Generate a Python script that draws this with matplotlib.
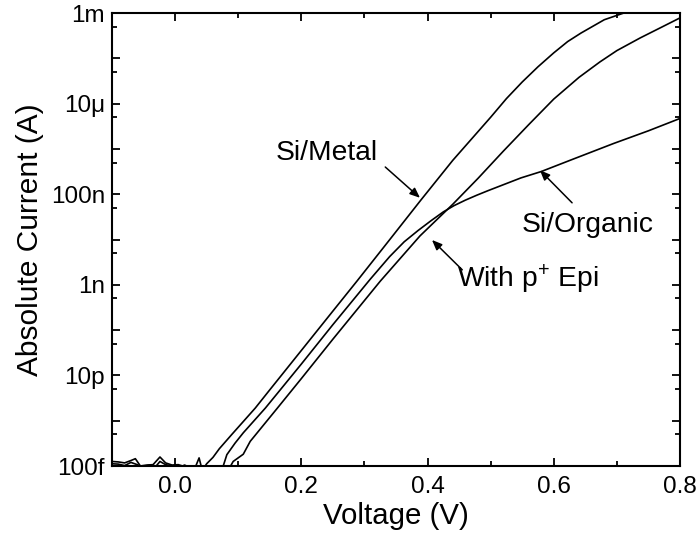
import numpy as np
import matplotlib
matplotlib.use("Agg")
import matplotlib.pyplot as plt
from matplotlib.ticker import FixedLocator, FixedFormatter

plt.rcParams['font.family'] = ['Liberation Sans', 'DejaVu Sans']
plt.rcParams['mathtext.fontset'] = 'custom'
plt.rcParams['mathtext.rm'] = 'Liberation Sans'
plt.rcParams['mathtext.it'] = 'Liberation Sans:italic'

# ---- data (voltage in V, current in A) ----
v_metal = [-0.100, -0.090, -0.080, -0.070, -0.063, -0.055, -0.045, -0.035, -0.024,
           -0.015, -0.005, 0.005, 0.012, 0.020, 0.030, 0.038, 0.043,
           0.050, 0.060, 0.070, 0.090, 0.106, 0.127, 0.150, 0.200, 0.250, 0.288,
           0.330, 0.390, 0.440, 0.500, 0.525, 0.550, 0.575, 0.600, 0.622, 0.643, 0.680, 0.711, 0.730]
i_metal = [1.26e-13, 1.23e-13, 1.17e-13, 1.32e-13, 1.45e-13, 1.00e-13, 1.05e-13, 1.07e-13, 1.58e-13,
           1.17e-13, 1.05e-13, 1.07e-13, 1.00e-13, 0.80e-13, 0.80e-13, 1.51e-13, 0.80e-13,
           1.12e-13, 1.55e-13, 2.40e-13, 5.0e-13, 8.9e-13, 1.9e-12, 4.8e-12, 3.55e-11, 2.63e-10, 1.20e-9,
           6.6e-9, 7.6e-8, 5.6e-7, 5.0e-6, 1.29e-5, 3.0e-5, 6.5e-5, 1.32e-4, 2.34e-4, 3.6e-4, 7.1e-4, 1.0e-3, 1.26e-3]

v_organic = [-0.100, -0.090, -0.080, -0.070, -0.060, -0.052, -0.040, -0.030, -0.024,
             -0.015, -0.005, 0.005, 0.015, 0.025, 0.035, 0.050, 0.060, 0.070,
             0.074, 0.082, 0.095, 0.108, 0.143, 0.200, 0.250, 0.309, 0.340, 0.363,
             0.385, 0.406, 0.425, 0.442, 0.460, 0.478, 0.496, 0.548, 0.580, 0.630, 0.695, 0.750, 0.800]
i_organic = [1.12e-13, 1.10e-13, 1.02e-13, 1.20e-13, 1.07e-13, 0.95e-13, 1.05e-13, 1.00e-13, 1.26e-13,
             1.07e-13, 1.00e-13, 0.90e-13, 1.05e-13, 0.90e-13, 0.85e-13, 0.85e-13, 0.85e-13, 0.85e-13,
             0.80e-13, 1.78e-13, 3.2e-13, 5.4e-13, 1.9e-12, 1.78e-11, 1.32e-10, 1.32e-9, 4.2e-9, 8.9e-9,
             1.58e-8, 2.63e-8, 4.07e-8, 5.6e-8, 7.4e-8, 9.5e-8, 1.20e-7, 2.29e-7, 3.16e-7, 5.9e-7, 1.32e-6, 2.51e-6, 4.7e-6]

v_epi = [-0.100, -0.080, -0.060, -0.040, -0.020, 0.000, 0.020, 0.040, 0.060, 0.080,
         0.084, 0.092, 0.108, 0.119, 0.161, 0.200, 0.250, 0.325, 0.388, 0.440,
         0.480, 0.520, 0.560, 0.600, 0.640, 0.673, 0.700, 0.737, 0.770, 0.800]
i_epi = [0.95e-13, 0.92e-13, 0.96e-13, 0.94e-13, 0.93e-13, 0.92e-13, 0.90e-13, 0.88e-13, 0.85e-13, 0.85e-13,
         0.80e-13, 1.26e-13, 1.82e-13, 3.5e-13, 1.82e-12, 8.5e-12, 6.3e-11, 1.20e-9, 1.20e-8, 6.0e-8,
         2.24e-7, 8.9e-7, 3.4e-6, 1.26e-5, 3.8e-5, 8.3e-5, 1.48e-4, 2.82e-4, 4.8e-4, 7.8e-4]

y_major = [1e-13, 1e-12, 1e-11, 1e-10, 1e-9, 1e-8, 1e-7, 1e-6, 1e-5, 1e-4, 1e-3]
y_labels = ['100f', '', '10p', '', '1n', '', '100n', '', '10μ', '', '1m']
y_minor = [5e-13, 5e-12, 5e-11, 5e-10, 5e-9, 5e-8, 5e-7, 5e-6, 5e-5, 5e-4]
x_major = [0.0, 0.2, 0.4, 0.6, 0.8]
x_labels = ['0.0', '0.2', '0.4', '0.6', '0.8']
x_minor = [-0.1, 0.1, 0.3, 0.5, 0.7]

fig = plt.figure(figsize=(6.97, 5.48), dpi=100)
ax = fig.add_axes([112/697, 1-466/548, 568/697, 453/548])

for v, i in [(v_metal, i_metal), (v_organic, i_organic), (v_epi, i_epi)]:
    ax.plot(v, i, color='black', lw=1.2)

ax.set_yscale('log')
ax.set_xlim(-0.1, 0.8)
ax.set_ylim(1e-13, 1e-3)

ax.yaxis.set_major_locator(FixedLocator(y_major))
ax.yaxis.set_major_formatter(FixedFormatter(y_labels))
ax.yaxis.set_minor_locator(FixedLocator(y_minor))
ax.yaxis.set_minor_formatter(FixedFormatter([''] * len(y_minor)))
ax.xaxis.set_major_locator(FixedLocator(x_major))
ax.xaxis.set_major_formatter(FixedFormatter(x_labels))
ax.xaxis.set_minor_locator(FixedLocator(x_minor))

ax.tick_params(which='both', direction='in', top=True, right=True, width=1.3, labelsize=17.5)
ax.tick_params(which='major', length=6)
ax.tick_params(which='minor', length=3.5)
ax.tick_params(axis='y', which='major', pad=5)
ax.tick_params(axis='x', which='major', pad=7)
for s in ax.spines.values():
    s.set_linewidth(1.5)

ax.set_xlabel('Voltage (V)', fontsize=21.2, labelpad=3)
ax.set_ylabel('Absolute Current (A)', fontsize=21.5, labelpad=5)

arrow = dict(arrowstyle='-|>,head_length=0.6,head_width=0.25', color='black', lw=1.1,
             shrinkA=0, shrinkB=0)
ax.text(0.241, 10**-6.09, 'Si/Metal', fontsize=20.3, ha='center', va='center')
ax.annotate('', xy=(0.388, 10**-7.08), xytext=(0.333, 10**-6.40), arrowprops=arrow)
ax.text(0.653, 10**-7.68, 'Si/Organic', fontsize=20.3, ha='center', va='center')
ax.annotate('', xy=(0.578, 10**-6.47), xytext=(0.629, 10**-7.19), arrowprops=arrow)
ax.text(0.559, 10**-8.89, r'With p$^{\mathregular{+}}$ Epi', fontsize=20.3, ha='center', va='center')
ax.annotate('', xy=(0.407, 10**-8.01), xytext=(0.455, 10**-8.67), arrowprops=arrow)

fig.savefig('out.png', dpi=100)
